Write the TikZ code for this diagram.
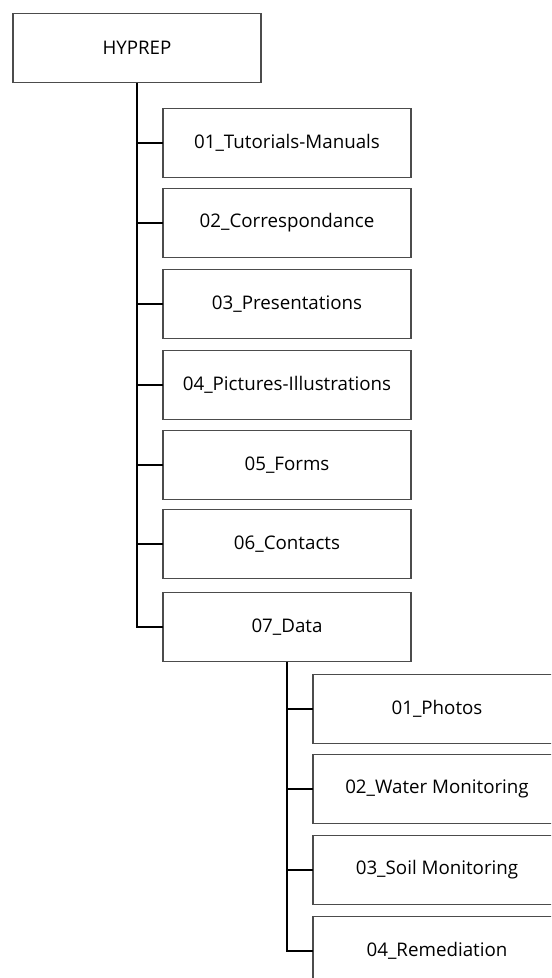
\documentclass[tikz,border=0pt]{standalone}
\usepackage{fontspec}
\setmainfont{Open Sans}
\usepackage{xcolor}
\usepackage{tikz}
\usetikzlibrary{positioning}

\begin{document}
\begin{tikzpicture}[
    x=0.03cm, y=-0.03cm,
    folder/.style={rectangle, draw=black!70, line width=0.9pt, minimum width=7.44cm, minimum height=2.07cm, inner sep=0pt, outer sep=0pt, font=\fontsize{16}{19}\selectfont},
    branch/.style={draw=black, line width=1.6pt}
]

\useasboundingbox (0,0) rectangle (551,978);
\clip (0,0) rectangle (551,978);

% Root
\node[folder] (hyprep) at (137,48) {HYPREP};

% Level 1
\node[folder] (tutorials) at (287,143) {01\_Tutorials-Manuals};
\node[folder] (corresp) at (287,223) {02\_Correspondance};
\node[folder] (presentations) at (287,304) {03\_Presentations};
\node[folder] (pictures) at (287,385) {04\_Pictures-Illustrations};
\node[folder] (forms) at (287,465) {05\_Forms};
\node[folder] (contacts) at (287,544) {06\_Contacts};
\node[folder] (data) at (287,627) {07\_Data};

% Level 2
\node[folder] (photos) at (437,709) {01\_Photos};
\node[folder] (water) at (437,789) {02\_Water Monitoring};
\node[folder] (soil) at (437,870) {03\_Soil Monitoring};
\node[folder] (remediation) at (437,951) {04\_Remediation};

% Trunks
\draw[branch] (hyprep.south) |- (data.west);
\draw[branch] (data.south) |- (remediation.west);

% Branches
\foreach \c in {tutorials, corresp, presentations, pictures, forms, contacts}
    \draw[branch] (hyprep.south |- \c.west) -- (\c.west);
\foreach \c in {photos, water, soil}
    \draw[branch] (data.south |- \c.west) -- (\c.west);

\end{tikzpicture}
\end{document}
